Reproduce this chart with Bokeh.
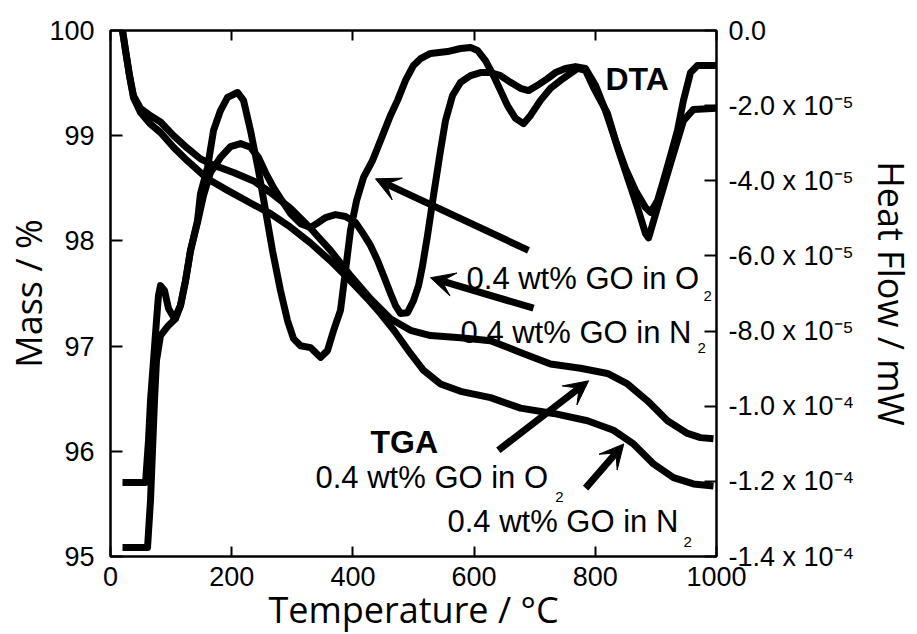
import numpy as np
from bokeh.plotting import figure
from bokeh.models import Range1d, LinearAxis, FixedTicker, Label, Arrow, VeeHead
from bokeh.embed import file_html
from bokeh.resources import INLINE

# ---------------- data ----------------
# TGA, mass in %
tga_o2_temp = [19.8, 24.8, 31.4, 38.0, 49.5, 66.0, 82.5, 104.0, 127.1, 148.5, 170.0, 203.0, 236.0,
               264.0, 297.0, 330.0, 363.0, 396.0, 429.0, 462.0, 495.0, 528.1, 577.6, 627.1, 676.6,
               726.1, 775.6, 820.1, 853.1, 886.1, 919.1, 952.1, 973.6, 995.0]
tga_o2_mass = [100.0, 99.81, 99.57, 99.38, 99.26, 99.19, 99.13, 99.00, 98.88, 98.78, 98.72, 98.65, 98.57,
               98.46, 98.31, 98.12, 97.91, 97.67, 97.45, 97.26, 97.15, 97.10, 97.08, 97.05, 96.94,
               96.83, 96.79, 96.74, 96.64, 96.48, 96.29, 96.17, 96.13, 96.12]

tga_n2_temp = [19.8, 24.8, 31.4, 38.0, 49.5, 66.0, 82.5, 104.0, 127.1, 160.1, 193.1, 231.0, 264.0,
               297.0, 330.0, 363.0, 396.0, 424.1, 445.5, 470.3, 495.0, 516.5, 544.6, 577.6, 627.1,
               676.6, 731.0, 787.1, 830.0, 863.0, 896.0, 929.0, 962.0, 995.0]
tga_n2_mass = [100.0, 99.81, 99.57, 99.36, 99.22, 99.11, 99.03, 98.89, 98.76, 98.59, 98.48, 98.36, 98.26,
               98.13, 97.98, 97.81, 97.62, 97.45, 97.31, 97.13, 96.93, 96.77, 96.64, 96.57, 96.51,
               96.41, 96.36, 96.29, 96.20, 96.07, 95.88, 95.75, 95.69, 95.67]

# DTA, heat flow in mW
dta_o2_temp = [19.8, 57.8, 62.7, 66.0, 71.0, 75.9, 79.2, 82.5, 89.1, 95.7, 105.6, 115.5, 123.8, 132.0,
               143.6, 148.5, 160.1, 170.0, 181.5, 193.1, 209.6, 219.5, 231.0, 244.2, 255.8, 267.3,
               280.5, 292.1, 302.0, 313.5, 330.0, 338.3, 346.5, 358.1, 368.0, 379.5, 387.8, 396.0,
               406.0, 417.5, 432.4, 445.5, 462.0, 473.6, 486.8, 500.0, 511.6, 528.1, 556.1, 577.6,
               594.1, 605.6, 618.8, 632.0, 643.6, 655.1, 668.3, 681.5, 693.1, 709.6, 726.1, 742.6,
               759.1, 770.6, 783.8, 797.0, 820.1, 836.6, 853.1, 869.6, 882.8, 888.0, 902.6, 919.1,
               935.6, 945.5, 962.0, 1000.0]
dta_o2_hf = [-12.03e-5, -12.03e-5, -10.91e-5, -9.85e-5, -8.78e-5, -7.72e-5, -7.05e-5, -6.79e-5, -6.92e-5,
             -7.40e-5, -7.67e-5, -7.32e-5, -6.66e-5, -5.86e-5, -5.06e-5, -4.34e-5, -3.65e-5, -2.66e-5,
             -2.13e-5, -1.78e-5, -1.65e-5, -1.86e-5, -2.66e-5, -3.73e-5, -4.79e-5, -5.86e-5, -6.92e-5,
             -7.72e-5, -8.20e-5, -8.39e-5, -8.44e-5, -8.57e-5, -8.70e-5, -8.52e-5, -7.99e-5, -7.45e-5,
             -6.39e-5, -5.32e-5, -4.53e-5, -3.91e-5, -3.46e-5, -2.93e-5, -2.26e-5, -1.86e-5, -1.33e-5,
             -0.93e-5, -0.75e-5, -0.61e-5, -0.56e-5, -0.48e-5, -0.45e-5, -0.53e-5, -0.80e-5, -1.20e-5,
             -1.60e-5, -2.00e-5, -2.34e-5, -2.48e-5, -2.26e-5, -1.86e-5, -1.54e-5, -1.33e-5, -1.14e-5,
             -1.01e-5, -1.06e-5, -1.52e-5, -2.21e-5, -3.11e-5, -3.91e-5, -4.71e-5, -5.40e-5, -5.52e-5,
             -4.71e-5, -3.81e-5, -2.93e-5, -2.40e-5, -2.10e-5, -2.07e-5]

dta_n2_temp = [19.8, 61.1, 66.0, 69.3, 72.6, 75.9, 82.5, 95.7, 107.3, 115.5, 123.8, 132.0, 143.6, 153.5,
               165.0, 181.5, 198.0, 214.5, 231.0, 244.2, 255.8, 269.0, 280.5, 297.0, 313.5, 330.0,
               343.2, 354.8, 371.3, 387.8, 404.3, 415.8, 429.0, 440.6, 450.5, 462.1, 470.3, 478.5,
               490.1, 500.0, 508.3, 514.9, 523.1, 533.0, 544.6, 552.8, 564.4, 577.6, 594.1, 610.6,
               627.1, 643.6, 660.1, 676.6, 689.8, 704.6, 721.1, 734.3, 750.8, 767.3, 783.8, 800.3,
               816.8, 833.3, 849.8, 866.3, 882.8, 891.1, 902.6, 912.5, 924.1, 935.6, 945.5, 957.1,
               968.6, 1000.0]
dta_n2_hf = [-13.76e-5, -13.76e-5, -12.51e-5, -11.18e-5, -9.85e-5, -8.78e-5, -8.12e-5, -7.85e-5, -7.67e-5,
             -7.32e-5, -6.66e-5, -5.86e-5, -5.11e-5, -4.39e-5, -3.78e-5, -3.38e-5, -3.09e-5, -3.01e-5,
             -3.11e-5, -3.38e-5, -3.78e-5, -4.18e-5, -4.47e-5, -4.87e-5, -5.14e-5, -5.24e-5, -5.11e-5,
             -4.98e-5, -4.90e-5, -4.95e-5, -5.11e-5, -5.38e-5, -5.72e-5, -6.12e-5, -6.52e-5, -7.00e-5,
             -7.32e-5, -7.53e-5, -7.51e-5, -7.19e-5, -6.79e-5, -6.26e-5, -5.46e-5, -4.39e-5, -3.19e-5,
             -2.40e-5, -1.73e-5, -1.38e-5, -1.20e-5, -1.12e-5, -1.12e-5, -1.20e-5, -1.38e-5, -1.54e-5,
             -1.60e-5, -1.46e-5, -1.28e-5, -1.12e-5, -1.01e-5, -0.96e-5, -1.01e-5, -1.46e-5, -2.13e-5,
             -2.93e-5, -3.67e-5, -4.26e-5, -4.71e-5, -4.84e-5, -4.53e-5, -3.99e-5, -3.33e-5, -2.66e-5,
             -1.86e-5, -1.12e-5, -0.93e-5, -0.93e-5]

# axes
temp_ticks = [0, 200, 400, 600, 800, 1000]
mass_ticks = [95, 96, 97, 98, 99, 100]
hf_ticks_e5 = [0, -2, -4, -6, -8, -10, -12, -14]
hf_tick_labels = ["0.0", "-2.0 x 10\u207b\u2075", "-4.0 x 10\u207b\u2075", "-6.0 x 10\u207b\u2075",
                  "-8.0 x 10\u207b\u2075", "-1.0 x 10\u207b\u2074", "-1.2 x 10\u207b\u2074",
                  "-1.4 x 10\u207b\u2074"]

# annotation texts: (text, temperature, mass)
notes_plain = [("0.4 wt% GO in O", 587.5, 97.64), ("0.4 wt% GO in N", 577.6, 97.13),
               ("0.4 wt% GO in O", 338.3, 95.75), ("0.4 wt% GO in N", 556.0, 95.33)]
notes_sub = [("2", 978.5, 97.48), ("2", 968.6, 96.98), ("2", 734.0, 95.57), ("2", 945.5, 95.14)]
notes_bold = [("DTA", 816.8, 99.54), ("TGA", 429.0, 96.09)]
# arrows: (tail T, tail mass, head T, head mass)
arrows = [(689.8, 97.91, 437.3, 98.59), (698.0, 97.36, 528.0, 97.65),
          (640.0, 96.01, 789.0, 96.67), (784.0, 95.65, 847.0, 96.07)]

# ---------------- figure ----------------
TICK_FONT = "Liberation Sans"
TITLE_FONT = "Open Sans"

p = figure(frame_width=606, frame_height=526,
           min_border_left=110, min_border_right=199, min_border_top=30, min_border_bottom=77,
           x_range=Range1d(0, 1000), y_range=Range1d(95, 100),
           output_backend="svg", toolbar_location=None,
           background_fill_color="white", border_fill_color="white")
p.extra_y_ranges = {"hf": Range1d(-14, 0)}
p.grid.visible = False
p.outline_line_color = "black"
p.outline_line_width = 2


def style_axis(ax, tick_in, standoff):
    ax.axis_line_width = 2
    ax.axis_line_color = "black"
    ax.major_tick_line_width = 2
    ax.major_tick_line_color = "black"
    ax.major_tick_in = tick_in
    ax.major_tick_out = 0
    ax.minor_tick_line_color = None
    ax.major_label_text_font = TICK_FONT
    ax.major_label_text_font_size = "27px"
    ax.major_label_text_color = "black"
    ax.major_label_standoff = standoff
    ax.axis_label_text_font = TITLE_FONT
    ax.axis_label_text_font_size = "36px"
    ax.axis_label_text_font_style = "normal"
    ax.axis_label_text_color = "black"


xb = p.xaxis[0]
xb.ticker = FixedTicker(ticks=temp_ticks)
style_axis(xb, 10, 10)
xb.axis_label = "Temperature / °C"
xb.axis_label_standoff = -4

yl = p.yaxis[0]
yl.ticker = FixedTicker(ticks=mass_ticks)
style_axis(yl, 12, 16)
yl.axis_label = "Mass / %"
yl.axis_label_standoff = -7

xt = LinearAxis(ticker=FixedTicker(ticks=temp_ticks))
style_axis(xt, 10, 0)
xt.major_label_text_font_size = "8px"
xt.major_label_text_color = None
p.add_layout(xt, "above")

yr = LinearAxis(y_range_name="hf", ticker=FixedTicker(ticks=hf_ticks_e5))
style_axis(yr, 12, 12)
yr.major_label_overrides = {t: lab for t, lab in zip(hf_ticks_e5, hf_tick_labels)}
yr.axis_label = "Heat Flow / mW"
yr.axis_label_standoff = 10
p.add_layout(yr, "right")

# curves
LW = 7
p.line(tga_o2_temp, tga_o2_mass, line_width=LW, color="black", line_join="round")
p.line(tga_n2_temp, tga_n2_mass, line_width=LW, color="black", line_join="round")
p.line(dta_o2_temp, np.array(dta_o2_hf) * 1e5, y_range_name="hf", line_width=LW, color="black", line_join="round")
p.line(dta_n2_temp, np.array(dta_n2_hf) * 1e5, y_range_name="hf", line_width=LW, color="black", line_join="round")

# annotations
for txt, x, y in notes_plain:
    p.add_layout(Label(x=x, y=y, text=txt, text_font=TICK_FONT, text_font_size="31px",
                       text_color="black", text_baseline="alphabetic", text_align="left"))
for txt, x, y in notes_sub:
    p.add_layout(Label(x=x, y=y, text=txt, text_font=TICK_FONT, text_font_size="15px",
                       text_color="black", text_baseline="alphabetic", text_align="left"))
for txt, x, y in notes_bold:
    p.add_layout(Label(x=x, y=y, text=txt, text_font=TICK_FONT, text_font_size="32px",
                       text_font_style="bold", text_color="black",
                       text_baseline="alphabetic", text_align="left"))

for xs, ys, xe, ye in arrows:
    p.add_layout(Arrow(x_start=xs, y_start=ys, x_end=xe, y_end=ye, line_width=7, line_color="black",
                       end=VeeHead(size=24, fill_color="black", line_color="black", line_width=1)))

open("out.html", "w").write(file_html(p, INLINE))
